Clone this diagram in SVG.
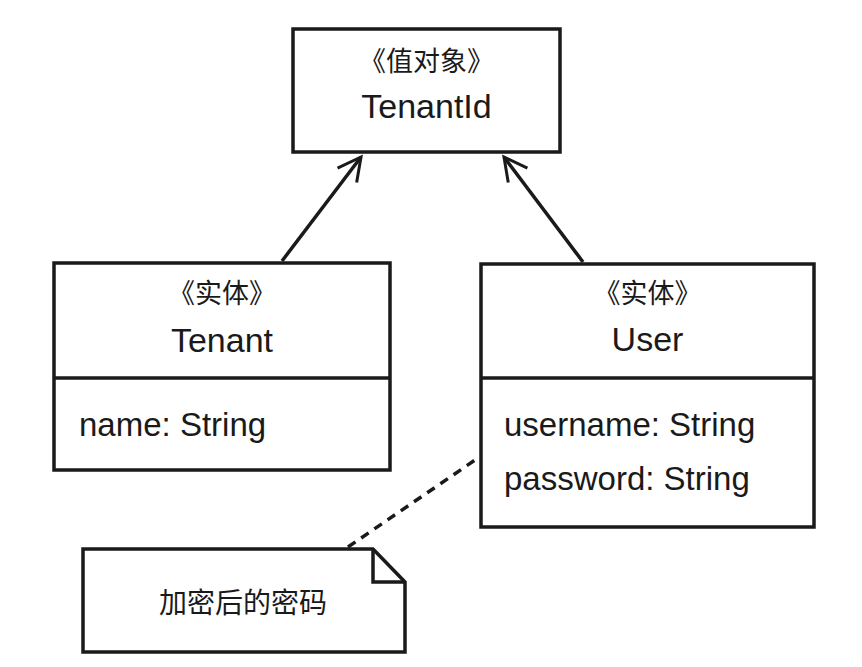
<svg xmlns="http://www.w3.org/2000/svg" width="862" height="667" viewBox="0 0 862 667">
<style>
.box{fill:#fff;stroke:#1a1a1a;stroke-width:3.5}
.ln{fill:none;stroke:#1a1a1a;stroke-width:3.5}
.st{font-family:"Noto Sans CJK SC",sans-serif;font-size:27px;fill:#1a1a1a;text-anchor:middle}
.nm{font-family:"Liberation Sans","Noto Sans CJK SC",sans-serif;font-size:34px;fill:#1a1a1a;text-anchor:middle}
.at{font-family:"Liberation Sans","Noto Sans CJK SC",sans-serif;font-size:33px;fill:#1a1a1a}
.nt{font-family:"Noto Sans CJK SC",sans-serif;font-size:28px;fill:#1a1a1a;text-anchor:middle}
</style>
<defs>
<marker id="open" markerUnits="userSpaceOnUse" viewBox="-28 -16 32 32" refX="0" refY="0" markerWidth="32" markerHeight="32" orient="auto" overflow="visible">
<path d="M-23,-12 L0,0 L-23,12" fill="none" stroke="#1a1a1a" stroke-width="3"/>
</marker>
</defs>
<rect width="862" height="667" fill="#fff"/>
<g id="connectors">
<path class="ln" stroke-width="3" d="M282,261 L361,157" marker-end="url(#open)"/>
<path class="ln" stroke-width="3" d="M583,262 L504,157" marker-end="url(#open)"/>
<path class="ln" stroke-dasharray="9 7" d="M348,547 L478,458"/>
</g>
<g id="tenantid">
<rect class="box" x="293" y="29" width="267" height="123"/>
<text class="st" x="426.5" y="71">《值对象》</text>
<text class="nm" x="426.5" y="118">TenantId</text>
</g>
<g id="tenant">
<rect class="box" x="54" y="263" width="336" height="207"/>
<line class="ln" x1="54" y1="378" x2="390" y2="378"/>
<text class="st" x="222" y="303">《实体》</text>
<text class="nm" x="222" y="352">Tenant</text>
<text class="at" x="79" y="436">name: String</text>
</g>
<g id="user">
<rect class="box" x="481" y="264" width="333" height="263"/>
<line class="ln" x1="481" y1="378" x2="814" y2="378"/>
<text class="st" x="647.5" y="303">《实体》</text>
<text class="nm" x="647.5" y="351">User</text>
<text class="at" x="504" y="436">username: String</text>
<text class="at" x="504" y="490">password: String</text>
</g>
<g id="note">
<path class="box" d="M83,549 L373,549 L405,582 L405,652 L83,652 Z"/>
<path class="ln" d="M373,549 L373,582 L405,582"/>
<text class="nt" x="243" y="613">加密后的密码</text>
</g>
</svg>
